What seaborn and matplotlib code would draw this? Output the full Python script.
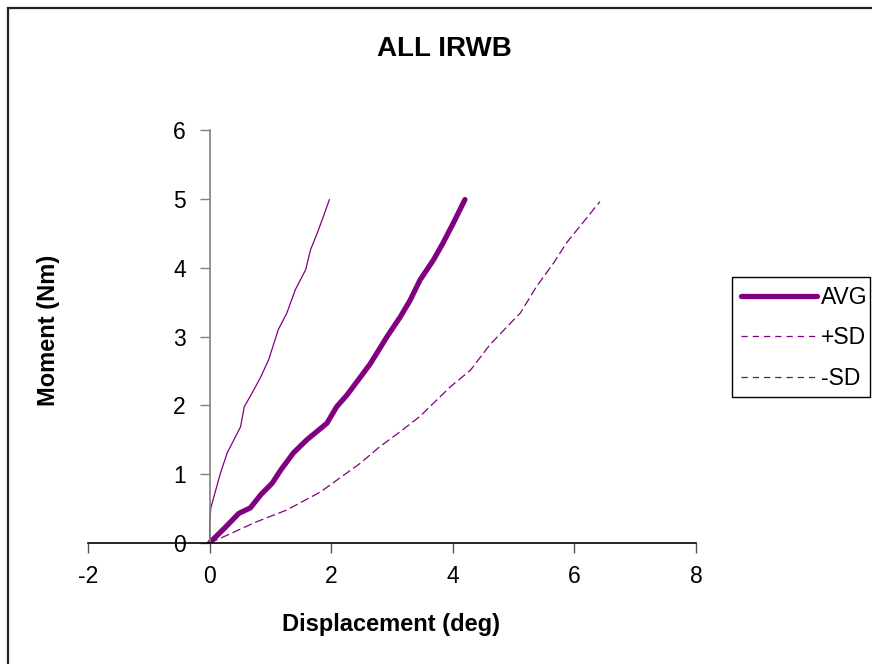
import matplotlib
matplotlib.use("Agg")
import matplotlib.pyplot as plt
import seaborn as sns
import pandas as pd
from matplotlib.lines import Line2D
from matplotlib.patches import Rectangle

# ---- data ----
avg_x = [0.0, 0.02, 0.25, 0.48, 0.67, 0.84, 1.03, 1.17, 1.38, 1.60, 1.93, 2.09, 2.26, 2.48, 2.64, 2.92, 3.14, 3.30, 3.46, 3.68, 3.84, 4.01, 4.20]
avg_y = [0.0, 0.02, 0.22, 0.43, 0.51, 0.70, 0.87, 1.06, 1.31, 1.50, 1.74, 1.98, 2.15, 2.41, 2.60, 3.00, 3.29, 3.53, 3.82, 4.11, 4.36, 4.65, 4.99]

psd_x = [0.0, 0.0, 0.02, 0.18, 0.29, 0.51, 0.57, 0.70, 0.84, 0.97, 1.13, 1.27, 1.41, 1.58, 1.66, 1.77, 1.87, 1.97]
psd_y = [0.0, 0.25, 0.51, 1.02, 1.31, 1.69, 1.98, 2.18, 2.41, 2.66, 3.10, 3.34, 3.68, 3.97, 4.26, 4.50, 4.74, 4.99]

msd_x = [0.0, 0.23, 0.75, 1.27, 1.82, 2.48, 2.80, 3.14, 3.46, 3.96, 4.29, 4.61, 4.89, 5.11, 5.38, 5.66, 5.87, 6.09, 6.42]
msd_y = [0.0, 0.09, 0.30, 0.48, 0.74, 1.16, 1.40, 1.62, 1.84, 2.27, 2.51, 2.88, 3.14, 3.34, 3.73, 4.07, 4.36, 4.60, 4.96]

x_ticks = [-2, 0, 2, 4, 6, 8]
y_ticks = [0, 1, 2, 3, 4, 5, 6]
series_names = ["AVG", "+SD", "-SD"]

df = pd.concat([
    pd.DataFrame({"x": avg_x, "y": avg_y, "s": "AVG"}),
    pd.DataFrame({"x": psd_x, "y": psd_y, "s": "+SD"}),
    pd.DataFrame({"x": msd_x, "y": msd_y, "s": "-SD"}),
], ignore_index=True)

sns.set_style("white")
plt.rcParams['font.family'] = ['Liberation Sans', 'DejaVu Sans']
plt.rcParams['text.color'] = 'black'
plt.rcParams['xtick.color'] = 'black'
plt.rcParams['ytick.color'] = 'black'

purple = "#800080"
W, H = 872, 664
fig = plt.figure(figsize=(8.72, 6.64), dpi=100)
ax = fig.add_axes([88/W, 1-543/H, (696-88)/W, (543-130)/H])

sns.lineplot(data=df[df.s == "-SD"], x="x", y="y", sort=False, estimator=None,
             color=purple, lw=0.9, ax=ax, legend=False)
ax.lines[-1].set_dashes([7, 3])
sns.lineplot(data=df[df.s == "+SD"], x="x", y="y", sort=False, estimator=None,
             color=purple, lw=0.9, ax=ax, legend=False)
sns.lineplot(data=df[df.s == "AVG"], x="x", y="y", sort=False, estimator=None,
             color=purple, lw=3.8, ax=ax, legend=False)
ax.lines[-1].set_solid_capstyle("round")
ax.lines[-1].set_solid_joinstyle("round")

for s in ["top", "right"]:
    ax.spines[s].set_visible(False)
ax.spines["left"].set_position(("data", 0))
ax.spines["left"].set_color("#808080")
ax.spines["left"].set_linewidth(1.2)
ax.spines["bottom"].set_color("black")
ax.spines["bottom"].set_linewidth(1.2)

ax.set_xlim(-2, 8)
ax.set_ylim(0, 6)
ax.set_xticks(x_ticks)
ax.set_yticks(y_ticks)
ax.set_xticklabels([str(v) for v in x_ticks])
ax.set_yticklabels([str(v) for v in y_ticks])
ax.tick_params(axis="x", direction="out", length=7, width=1, color="#555555",
               pad=9, bottom=True, labelsize=16.5, labelcolor="black")
ax.tick_params(axis="y", direction="out", length=7, width=1, color="#808080",
               pad=10, left=True, labelsize=16.5, labelcolor="black")

ax.set_xlabel("")
ax.set_ylabel("")
fig.text(391/W, 1-625/H, "Displacement (deg)", fontsize=17, fontweight="bold",
         ha="center", va="center", color="black")
fig.text(48/W, 1-330/H, "Moment (Nm)", fontsize=17, fontweight="bold",
         ha="center", va="center", rotation=90, color="black")
fig.text(444/W, 1-49/H, "ALL IRWB", fontsize=20, fontweight="bold",
         ha="center", va="center", color="black")

handles = [
    Line2D([], [], color=purple, lw=3.8, solid_capstyle="round"),
    Line2D([], [], color=purple, lw=0.9, dashes=[5, 4]),
    Line2D([], [], color=purple, lw=0.9, dashes=[5, 4]),
]
leg = fig.legend(handles, series_names, loc="upper left",
                 bbox_to_anchor=(732/W, 1-277/H), fontsize=16.5,
                 frameon=False, handlelength=3.3,
                 handletextpad=0.2, borderpad=0.4, labelspacing=0.75,
                 borderaxespad=0)
for t in leg.get_texts():
    t.set_color("black")

# legend box outline, as in the reference
fig.patches.append(Rectangle((732/W, 1-397/H), (870-732)/W, (397-277)/H,
                             transform=fig.transFigure, fill=False,
                             edgecolor="black", lw=1.0))

# outer chart frame
fig.patches.append(Rectangle((8/W, -0.1), 1.2, 1-8/H+0.1, transform=fig.transFigure,
                             fill=False, edgecolor="#222222", lw=1.6))

fig.savefig("out.png", dpi=100)
